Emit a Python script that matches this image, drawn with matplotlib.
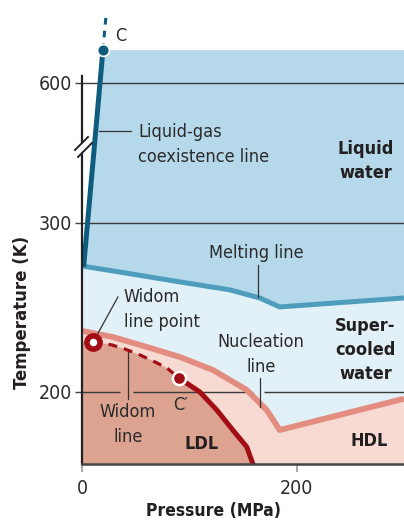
import numpy as np
import matplotlib.pyplot as plt
from matplotlib.lines import Line2D
from matplotlib.patches import Polygon

plt.rcParams['font.family'] = ['DejaVu Sans']
plt.rcParams['font.stretch'] = 'condensed'

# pressure in MPa, temperature in K (schematic)
lg_p = [1.5, 19.5]            # liquid-gas coexistence line
lg_t = [274, 670]
lg_ext_p = [19.5, 22.3]       # past the critical point C
lg_ext_t = [670, 742]

melt_p = [0, 4.7, 28.8, 91.2, 137.7, 165.6, 184.2, 300]
melt_t = [274.6, 274.0, 271.6, 265.1, 260.4, 255.6, 250.3, 255.6]

nucl_p = [0, 28.8, 60.5, 91.2, 121.9, 153.5, 172.1, 184.2, 300]
nucl_t = [236.1, 232.5, 226.6, 220.7, 213.0, 201.2, 189.3, 177.5, 196]

widom_p = [10, 27.9, 40.0, 54.0, 67.9, 79.1, 90.2]
widom_t = [229.8, 227.8, 225.4, 221.9, 217.8, 214.2, 208.3]

llcp_p = [90.2, 109.8, 125.6, 140.5, 153.5, 159.1, 160.5]
llcp_t = [208.3, 200, 189.3, 177.5, 167.5, 157.7, 154]

crit_c = (19.5, 670)
crit_cp = (90.2, 208.3)
widom_pt = (10, 229.8)

yticks = [200, 300, 600]
xticks = [0, 200]

# colours
c_liquid = '#b5d9ea'
c_super = '#e2f0f7'
c_hdl = '#f7dbd3'
c_ldl = '#dba390'
c_nucl = '#e38d80'
c_red = '#a30d16'
c_melt = '#4f9dbd'
c_lg = '#0e5d7e'
c_txt = '#2b2b2b'


def fwd(t):
    t = np.asarray(t, float)
    return np.where(t <= 300, (t - 200) * 1.69, 169 + (t - 300) * 0.4667)


def inv(y):
    y = np.asarray(y, float)
    return np.where(y <= 169, 200 + y / 1.69, 300 + (y - 169) / 0.4667)


W, H = 404, 521
fig = plt.figure(figsize=(W / 100, H / 100), dpi=100)
ax = fig.add_axes([82 / W, (H - 464) / H, 322 / W, (464 - 10) / H])
ax.set_yscale('function', functions=(fwd, inv))
ax.set_xlim(0, 300)
ax.set_ylim(157.4, 756)

ymin = 150
# regions
ax.fill_between(melt_p, melt_t, ymin, color=c_super, lw=0, zorder=1)
ax.fill_between(nucl_p, nucl_t, ymin, color=c_hdl, lw=0, zorder=1)
ldl_p = [0] + widom_p + llcp_p[1:] + [0]
ldl_t = [widom_t[0]] + widom_t + llcp_t[1:] + [ymin]
ax.fill(ldl_p, ldl_t, color=c_ldl, lw=0, zorder=1)
liq = [(lg_p[0], lg_t[0])] + [(p, t) for p, t in zip(melt_p, melt_t) if p > lg_p[0]]
liq += [(300, crit_c[1]), crit_c]
ax.add_patch(Polygon(liq, closed=True, color=c_liquid, lw=0, zorder=1))

# grid lines
gc = '#3a3a3a'
ax.hlines([600, 300], 0, 300, color=gc, lw=1.0, zorder=2)
for a, b in [(0, 35.3), (47.4, 159), (170, 300)]:
    ax.hlines(200, a, b, color=gc, lw=1.0, zorder=2)

# curves
ax.plot(melt_p, melt_t, color=c_melt, lw=3.6, zorder=3, solid_capstyle='butt')
ax.plot(nucl_p, nucl_t, color=c_nucl, lw=4.2, zorder=3, solid_capstyle='butt')
ax.plot(widom_p, widom_t, color=c_red, lw=2.3, ls=(0, (2.8, 2.2)), zorder=3)
ax.plot(llcp_p, llcp_t, color=c_red, lw=3.6, zorder=3, solid_capstyle='butt')
ax.plot(lg_p, lg_t, color=c_lg, lw=3.6, zorder=3, solid_capstyle='butt')
ax.plot(lg_ext_p, lg_ext_t, color=c_lg, lw=2.2, ls=(0, (2.2, 2.0)), zorder=3,
        clip_on=False)

# points
ax.plot(*crit_c, 'o', ms=8.5, mfc=c_lg, mec='white', mew=1.2, zorder=5, clip_on=False)
ax.plot(*crit_cp, 'o', ms=9.5, mfc=c_red, mec='white', mew=1.8, zorder=5)
ax.plot(*widom_pt, 'o', ms=9.5, mfc='white', mec=c_red, mew=4, zorder=5, clip_on=False)

# leader lines
lc = '#333333'
ax.plot([15.8, 45.6], [497, 497], color=lc, lw=0.9, zorder=4)
ax.plot([163.7, 163.7], [275.1, 256.2], color=lc, lw=0.9, zorder=4)
ax.plot([33.5, 14.0], [256.2, 233.7], color=lc, lw=0.9, zorder=4)
ax.plot([42.8, 42.8], [223.7, 195.9], color=lc, lw=0.9, zorder=4)
ax.plot([165.6, 165.6], [208.3, 191.1], color=lc, lw=0.9, zorder=4)

fs = 13
kw = dict(fontsize=fs, color=c_txt, zorder=6, linespacing=1.5)
ax.text(52.1, 468, 'Liquid-gas\ncoexistence line', ha='left', va='center', **kw)
ax.text(162.8, 282.2, 'Melting line', ha='center', va='center', **kw)
ax.text(39.1, 248.5, 'Widom\nline point', ha='left', va='center', **kw)
ax.text(166.5, 221.9, 'Nucleation\nline', ha='center', va='center', **kw)
ax.text(42.8, 180.8, 'Widom\nline', ha='center', va='center', **kw)
ax.text(92.1, 192.3, 'C\u2032', ha='center', va='center', **kw)
ax.text(36.3, 700.7, 'C', ha='center', va='center', clip_on=False, **kw)
bkw = dict(kw, fontweight='bold', color='#231f20', linespacing=1.45)
ax.text(264.2, 433, 'Liquid\nwater', ha='center', va='center', **bkw)
ax.text(264.2, 224.9, 'Super-\ncooled\nwater', ha='center', va='center', **bkw)
ax.text(111.6, 169.2, 'LDL', ha='center', va='center', **bkw)
ax.text(267.9, 171, 'HDL', ha='center', va='center', **bkw)

# axes
for s in ['top', 'right']:
    ax.spines[s].set_visible(False)
ax.spines['left'].set_color('#222222')
ax.spines['left'].set_linewidth(1.6)
ax.spines['left'].set_bounds(157.4, 615)
ax.spines['bottom'].set_color('#444444')
ax.spines['bottom'].set_linewidth(1.8)
ax.spines['left'].set_zorder(7)
ax.spines['bottom'].set_zorder(7)
ax.set_yticks(yticks)
ax.set_yticks([], minor=True)
ax.set_yticklabels([str(v) for v in yticks])
ax.set_xticks(xticks)
ax.set_xticklabels([str(v) for v in xticks])
ax.tick_params(axis='y', length=5, width=1, color='#444444', pad=2,
               labelsize=14, labelcolor=c_txt)
ax.tick_params(axis='x', length=6, width=1.2, color='#999999', pad=5,
               labelsize=14, labelcolor=c_txt)


def px(x, y):
    return x / W, 1 - y / H


# axis break
fig.add_artist(Polygon([px(75, 149), px(88, 137), px(92, 143), px(78, 156)],
                       closed=True, color='white', lw=0, transform=fig.transFigure,
                       zorder=8))
for (x1, y1), (x2, y2) in [((75, 150), (88, 137)), ((78, 157), (92, 143))]:
    a, b = px(x1, y1), px(x2, y2)
    fig.add_artist(Line2D([a[0], b[0]], [a[1], b[1]], color='#222222', lw=1.4,
                          transform=fig.transFigure, zorder=9))

fig.text(*px(213, 511), 'Pressure (MPa)', ha='center', va='center',
         fontsize=12.5, fontweight='bold', color='#231f20')
fig.text(*px(22, 312), 'Temperature (K)', ha='center', va='center', rotation=90,
         fontsize=13.3, fontweight='bold', color='#231f20')

fig.savefig('out.png', dpi=100)
